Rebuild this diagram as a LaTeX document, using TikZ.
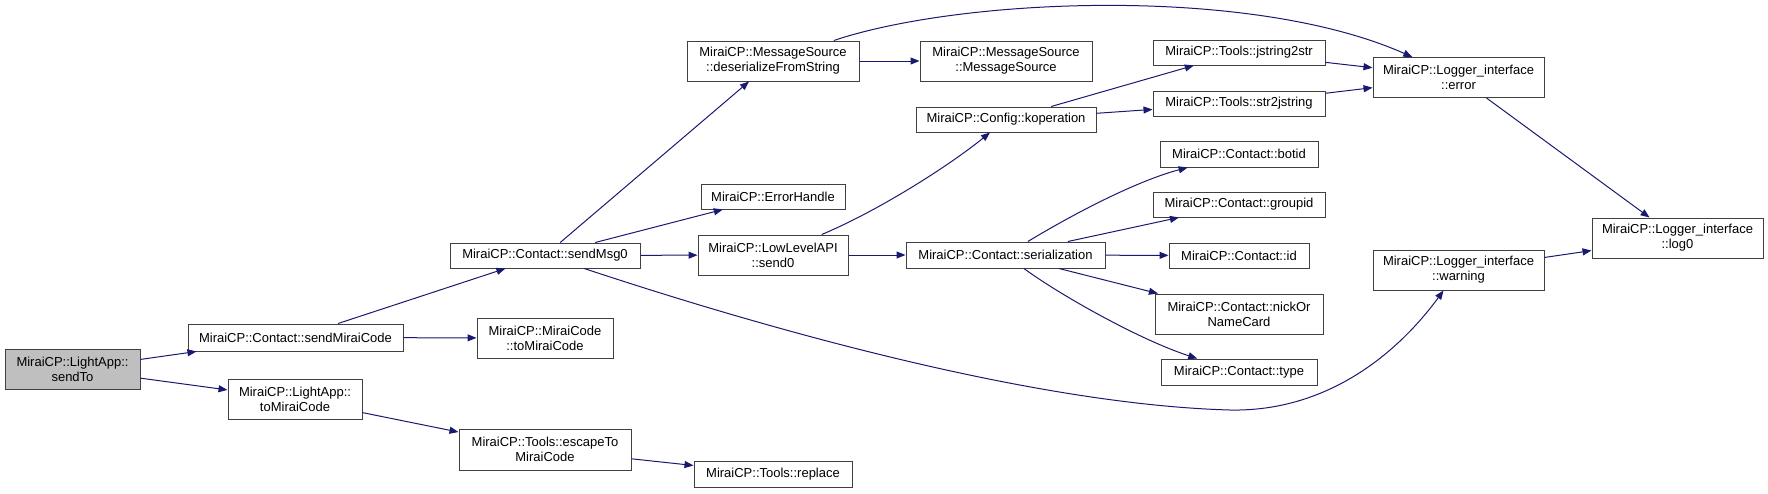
\documentclass[tikz,border=0pt]{standalone}
\usepackage{fontspec}
\setmainfont{Liberation Sans}
\usepackage{tikz}
\usepackage{xcolor}
\usetikzlibrary{arrows.meta}
\definecolor{edgeblue}{HTML}{191970}
\definecolor{boxline}{HTML}{404040}
\definecolor{rootgray}{HTML}{BFBFBF}
\tikzset{
  fn/.style={draw=boxline,fill=white,line width=1pt,align=center,
             inner sep=0pt,font=\fontsize{13}{15}\selectfont},
  rootfn/.style={fn,fill=rootgray},
  call/.style={-{Triangle[length=9pt,width=7pt]},line width=1pt,
               draw=edgeblue}
}

\begin{document}
\begin{tikzpicture}[x=1pt,y=-1pt]
    \useasboundingbox (0,0) rectangle (1768,493);
    % first column
    \node[rootfn,minimum width=135pt,minimum height=40pt] (sendTo) at (72.5,369)
      {MiraiCP::LightApp::\\sendTo};
    \node[fn,minimum width=215pt,minimum height=27pt] (sendMirai) at (295.5,337.5)
      {MiraiCP::Contact::sendMiraiCode};
    \node[fn,minimum width=134pt,minimum height=40pt] (appToMirai) at (295,399)
      {MiraiCP::LightApp::\\toMiraiCode};
    \node[fn,minimum width=190pt,minimum height=25pt] (sendMsg) at (545,255.5)
      {MiraiCP::Contact::sendMsg0};
    \node[fn,minimum width=136pt,minimum height=40pt] (codeToMirai) at (545,338)
      {MiraiCP::MiraiCode\\::toMiraiCode};
    \node[fn,minimum width=172pt,minimum height=41pt] (escape) at (545,449.5)
      {MiraiCP::Tools::escapeTo\\MiraiCode};
    \node[fn,minimum width=172pt,minimum height=40pt] (deser) at (773,61)
      {MiraiCP::MessageSource\\::deserializeFromString};
    \node[fn,minimum width=144pt,minimum height=25pt] (errHandle) at (773,196.5)
      {MiraiCP::ErrorHandle};
    \node[fn,minimum width=150pt,minimum height=40pt] (send) at (773,255)
      {MiraiCP::LowLevelAPI\\::send0};
    \node[fn,minimum width=158pt,minimum height=26pt] (replace) at (773,474)
      {MiraiCP::Tools::replace};
    \node[fn,minimum width=172pt,minimum height=40pt] (msgSrc) at (1006,61)
      {MiraiCP::MessageSource\\::MessageSource};
    \node[fn,minimum width=180pt,minimum height=25pt] (koper) at (1006,119.5)
      {MiraiCP::Config::koperation};
    \node[fn,minimum width=199pt,minimum height=26pt] (serial) at (1005.5,255)
      {MiraiCP::Contact::serialization};
    \node[fn,minimum width=172pt,minimum height=25pt] (jstr) at (1239,52.5)
      {MiraiCP::Tools::jstring2str};
    \node[fn,minimum width=172pt,minimum height=25pt] (strj) at (1239,103.5)
      {MiraiCP::Tools::str2jstring};
    \node[fn,minimum width=158pt,minimum height=26pt] (botid) at (1239,154)
      {MiraiCP::Contact::botid};
    \node[fn,minimum width=172pt,minimum height=25pt] (groupid) at (1239,204.5)
      {MiraiCP::Contact::groupid};
    \node[fn,minimum width=140pt,minimum height=25pt] (cid) at (1239,255.5)
      {MiraiCP::Contact::id};
    \node[fn,minimum width=168pt,minimum height=40pt] (nick) at (1239,314)
      {MiraiCP::Contact::nickOr\\NameCard};
    \node[fn,minimum width=156pt,minimum height=26pt] (ctype) at (1239,372)
      {MiraiCP::Contact::type};
    \node[fn,minimum width=171pt,minimum height=40pt] (err) at (1458.5,77.5)
      {MiraiCP::Logger\_interface\\::error};
    \node[fn,minimum width=171pt,minimum height=40pt] (warn) at (1458.5,270)
      {MiraiCP::Logger\_interface\\::warning};
    \node[fn,minimum width=171pt,minimum height=40pt] (log) at (1677.5,238)
      {MiraiCP::Logger\_interface\\::log0};

    % calls
    \draw[call] (sendTo) -- (sendMirai);
    \draw[call] (sendTo) -- (appToMirai);
    \draw[call] (sendMirai) -- (sendMsg);
    \draw[call] (sendMirai) -- (codeToMirai);
    \draw[call] (appToMirai) -- (escape);
    \draw[call] (escape) -- (replace);
    \draw[call] (sendMsg) -- (deser);
    \draw[call] (sendMsg) -- (errHandle);
    \draw[call] (sendMsg) -- (send);
    \draw[call] (sendMsg) .. controls (800,340) and (1050,405) .. (1230,410)
      .. controls (1330,412) and (1400,350) .. (warn);
    \draw[call] (deser) -- (msgSrc);
    \draw[call] (deser) .. controls (960,-2) and (1250,-15) .. (err);
    \draw[call] (send) .. controls (880,210) and (950,165) .. (koper);
    \draw[call] (send) -- (serial);
    \draw[call] (koper) -- (jstr);
    \draw[call] (koper) -- (strj);
    \draw[call] (serial) .. controls (1080,210) and (1140,180) .. (botid);
    \draw[call] (serial) -- (groupid);
    \draw[call] (serial) -- (cid);
    \draw[call] (serial) -- (nick);
    \draw[call] (serial) .. controls (1060,295) and (1140,340) .. (ctype);
    \draw[call] (jstr) -- (err);
    \draw[call] (strj) -- (err);
    \draw[call] (err) -- (log);
    \draw[call] (warn) -- (log);
\end{tikzpicture}
\end{document}
